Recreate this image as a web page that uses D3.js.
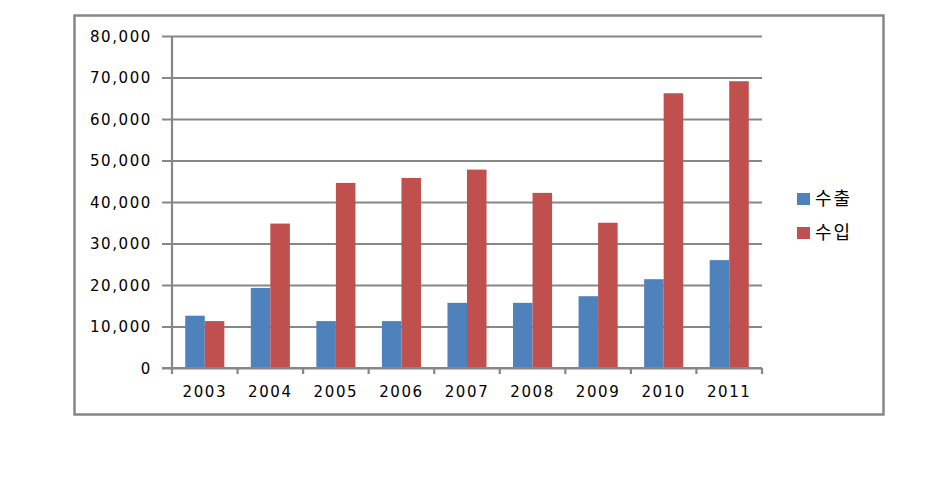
<!DOCTYPE html>
<html>
<head>
<meta charset="utf-8">
<script src="https://cdn.jsdelivr.net/npm/d3@7"></script>
<style>
  html, body { margin: 0; padding: 0; background: #fff; }
  svg { display: block; }
</style>
</head>
<body>
<div id="chart"></div>
<script>
const years = ["2003","2004","2005","2006","2007","2008","2009","2010","2011"];
const exportVals = [12600, 19300, 11300, 11300, 15700, 15700, 17300, 21400, 26000];
const importVals = [11300, 34800, 44600, 45800, 47800, 42200, 35000, 66200, 69100];
const seriesNames = ["수출", "수입"];
const seriesColors = ["#4F81BD", "#C0504D"];
const yTicks = [0, 10000, 20000, 30000, 40000, 50000, 60000, 70000, 80000];

const W = 942, H = 482;
const svg = d3.select("#chart").append("svg").attr("width", W).attr("height", H);

// outer frame
svg.append("rect")
  .attr("x", 74.5).attr("y", 15.5).attr("width", 809).attr("height", 399)
  .attr("fill", "#fff").attr("stroke", "#878787").attr("stroke-width", 2.5);

const plot = { left: 172, right: 762, top: 36, bottom: 368 };
const gridCol = "#878787";

const x = d3.scaleBand().domain(years).range([plot.left, plot.right]).padding(0);
const y = d3.scaleLinear().domain([0, 80000]).range([plot.bottom, plot.top]);

// gridlines with outward tick
const fmt = d3.format(",");
const yAxis = d3.axisLeft(y).tickValues(yTicks).tickFormat(d => fmt(d))
  .tickSize(-(plot.right - plot.left)).tickSizeOuter(0).tickPadding(20);
const gy = svg.append("g").attr("transform", `translate(${plot.left},0)`).call(yAxis);
gy.select(".domain").remove();
gy.selectAll(".tick line").attr("stroke", gridCol).attr("stroke-width", 2.2)
  .attr("x1", -10);
gy.selectAll(".tick text")
  .attr("font-family", "'DejaVu Sans', Verdana, sans-serif")
  .attr("font-size", 15).attr("fill", "#000")
  .style("letter-spacing", "1.6px")
  .attr("x", -20).attr("dy", "0.36em");

// y-axis vertical line
svg.append("line")
  .attr("x1", plot.left).attr("x2", plot.left)
  .attr("y1", plot.top).attr("y2", plot.bottom)
  .attr("stroke", gridCol).attr("stroke-width", 2.2);

// bars
const bw = x.bandwidth() * 0.298;
const groups = svg.append("g").selectAll("g").data(years).join("g")
  .attr("transform", d => `translate(${x(d) + x.bandwidth() / 2 - bw},0)`);
[exportVals, importVals].forEach((vals, si) => {
  groups.append("rect")
    .attr("x", si * bw)
    .attr("y", (d, i) => y(vals[i]))
    .attr("width", bw)
    .attr("height", (d, i) => y(0) - y(vals[i]))
    .attr("fill", seriesColors[si]);
});

// x axis
const xAxis = d3.axisBottom(x).tickSize(0).tickPadding(18);
const gx = svg.append("g").attr("transform", `translate(0,${plot.bottom})`).call(xAxis);
gx.select(".domain").remove();
gx.selectAll(".tick text")
  .attr("font-family", "'DejaVu Sans', Verdana, sans-serif")
  .attr("font-size", 15).attr("fill", "#000")
  .style("letter-spacing", "1.6px");
svg.append("line")
  .attr("x1", plot.left - 10).attr("x2", plot.right)
  .attr("y1", plot.bottom).attr("y2", plot.bottom)
  .attr("stroke", gridCol).attr("stroke-width", 2.2);
const bounds = years.map(d => x(d)).concat([plot.right]);
svg.append("g").selectAll("line").data(bounds).join("line")
  .attr("x1", d => d).attr("x2", d => d)
  .attr("y1", plot.bottom).attr("y2", plot.bottom + 6)
  .attr("stroke", gridCol).attr("stroke-width", 2.2);

// legend
const lg = svg.append("g").attr("transform", "translate(797,193)");
seriesNames.forEach((name, i) => {
  const row = lg.append("g").attr("transform", `translate(0,${i * 34})`);
  row.append("rect").attr("width", 13).attr("height", 12).attr("fill", seriesColors[i]);
  row.append("text").attr("x", 18).attr("y", 6).attr("dy", "0.36em")
    .attr("font-family", "'Noto Sans CJK KR', sans-serif")
    .attr("font-size", 18).attr("fill", "#000")
    .style("letter-spacing", "2px")
    .text(name);
});
</script>
</body>
</html>
